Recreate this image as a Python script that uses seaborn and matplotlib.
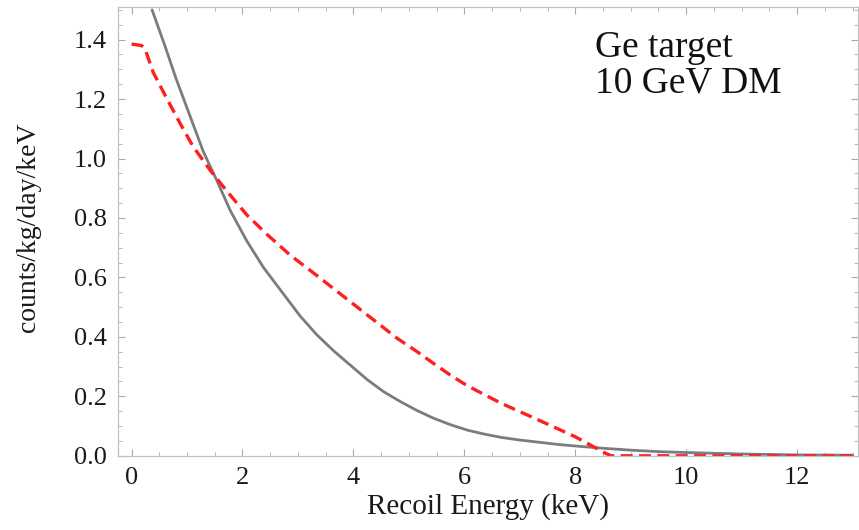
import matplotlib
matplotlib.use("Agg")
import matplotlib.pyplot as plt
import seaborn as sns
import pandas as pd
from matplotlib.ticker import MultipleLocator

# Data
gray_x = [0.37, 0.6, 0.8, 1.0, 1.29, 1.54, 1.78, 2.08, 2.38, 2.74, 3.04, 3.34, 3.65, 3.95,
          4.25, 4.55, 4.85, 5.15, 5.45, 5.76, 6.06, 6.36, 6.66, 7.0, 7.33, 7.7, 8.0, 8.53,
          9.0, 9.5, 10.0, 11.0, 12.0, 13.0]
gray_y = [1.50, 1.38, 1.27, 1.17, 1.025, 0.925, 0.825, 0.722, 0.633, 0.544, 0.470, 0.407,
          0.352, 0.304, 0.256, 0.215, 0.182, 0.152, 0.126, 0.104, 0.086, 0.073, 0.062,
          0.053, 0.046, 0.038, 0.033, 0.025, 0.019, 0.014, 0.011, 0.006, 0.003, 0.002]

red_x = [0.0, 0.18, 0.24, 0.39, 0.64, 0.87, 1.11, 1.42, 1.72, 2.08, 2.44, 2.86, 3.35, 3.83,
         4.31, 4.79, 5.15, 5.45, 5.76, 6.06, 6.66, 7.33, 8.0, 8.55, 8.65, 10.0, 12.0, 13.0]
red_y = [1.385, 1.38, 1.37, 1.29, 1.20, 1.12, 1.04, 0.96, 0.89, 0.81, 0.745, 0.675, 0.605,
         0.535, 0.465, 0.395, 0.35, 0.31, 0.27, 0.235, 0.177, 0.121, 0.064, 0.008, 0.0,
         0.0, 0.0, 0.0]

x_ticks = [0, 2, 4, 6, 8, 10, 12]
y_ticks = [0.0, 0.2, 0.4, 0.6, 0.8, 1.0, 1.2, 1.4]
x_label = "Recoil Energy (keV)"
y_label = "counts/kg/day/keV"
note = "Ge target\n10 GeV DM"

sns.set_theme(style="ticks")
plt.rcParams["font.family"] = ["Liberation Serif", "DejaVu Serif"]

fig = plt.figure(figsize=(8.59, 5.30), dpi=100)
ax = fig.add_axes([0.137, 0.140, 0.862, 0.847])

gdf = pd.DataFrame({"x": gray_x, "y": gray_y})
rdf = pd.DataFrame({"x": red_x, "y": red_y})
sns.lineplot(data=gdf, x="x", y="y", ax=ax, color="#7c7c7c", linewidth=2.0, sort=False)
sns.lineplot(data=rdf, x="x", y="y", ax=ax, color="#ff1f1f", linewidth=2.4, sort=False)
ax.lines[-1].set_dashes([3.6, 1.9])
for ln in ax.lines:
    ln.set_solid_joinstyle("round")
    ln.set_dash_joinstyle("round")

ax.set_xlim(-0.25, 13.1)
ax.set_ylim(0, 1.51)
ax.set_xticks(x_ticks)
ax.set_xticklabels([str(t) for t in x_ticks])
ax.set_yticks(y_ticks)
ax.set_yticklabels([f"{t:.1f}" for t in y_ticks])
ax.xaxis.set_minor_locator(MultipleLocator(0.5))
ax.yaxis.set_minor_locator(MultipleLocator(0.05))
ax.tick_params(which="both", direction="in", top=True, right=True, color="#aaaaaa",
               labelsize=19, labelcolor="#1a1a1a")
ax.tick_params(which="major", length=5, width=0.8, pad=8)
ax.tick_params(which="minor", length=3, width=0.6)
for s in ax.spines.values():
    s.set_color("#bcc0c0")
    s.set_linewidth(0.9)

ax.set_xlabel(x_label, fontsize=21, color="#1a1a1a", labelpad=3)
ax.set_ylabel(y_label, fontsize=20, color="#1a1a1a")
ax.yaxis.set_label_coords(-0.103, 0.51)

ax.text(8.35, 1.43, note, fontsize=27, color="#111111", va="top", ha="left",
        linespacing=1.05)

fig.savefig("out.png", dpi=100)
